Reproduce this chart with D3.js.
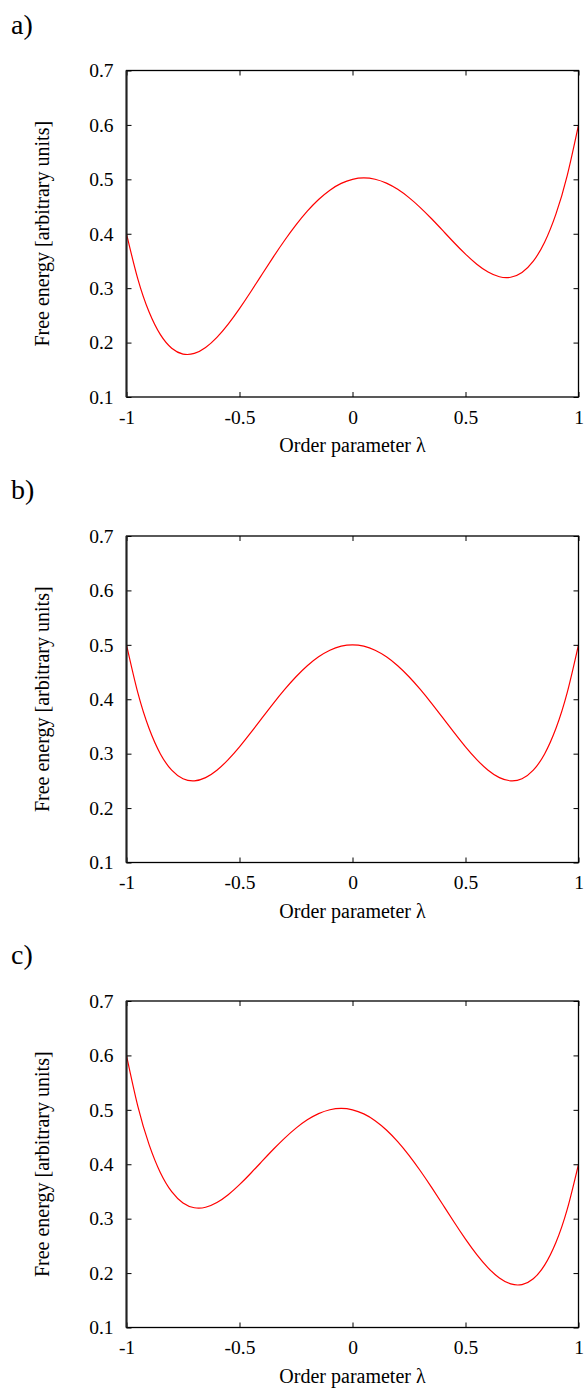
<!DOCTYPE html>
<html>
<head>
<meta charset="utf-8">
<script src="https://cdn.jsdelivr.net/npm/d3@7"></script>
<style>
  html, body { margin: 0; padding: 0; background: #fff; }
  svg { display: block; }
  text { font-family: "Liberation Serif", "DejaVu Serif", serif; fill: #000; }
</style>
</head>
<body>
<script>
// ---- data ----
const lambda = [-1, -0.95, -0.9, -0.85, -0.8, -0.75, -0.7, -0.65, -0.6, -0.55, -0.5,
  -0.45, -0.4, -0.35, -0.3, -0.25, -0.2, -0.15, -0.1, -0.05, 0,
  0.05, 0.1, 0.15, 0.2, 0.25, 0.3, 0.35, 0.4, 0.45, 0.5,
  0.55, 0.6, 0.65, 0.7, 0.75, 0.8, 0.85, 0.9, 0.95, 1];

const energyA = [0.4000, 0.3170, 0.2561, 0.2145, 0.1896, 0.1789, 0.1801, 0.1910, 0.2096, 0.2340, 0.2625,
  0.2935, 0.3256, 0.3575, 0.3881, 0.4164, 0.4416, 0.4630, 0.4801, 0.4925, 0.5000,
  0.5025, 0.5001, 0.4930, 0.4816, 0.4664, 0.4481, 0.4275, 0.4056, 0.3835, 0.3625,
  0.3440, 0.3296, 0.3210, 0.3201, 0.3289, 0.3496, 0.3845, 0.4361, 0.5070, 0.6000];

const energyB = [0.5000, 0.4120, 0.3461, 0.2995, 0.2696, 0.2539, 0.2501, 0.2560, 0.2696, 0.2890, 0.3125,
  0.3385, 0.3656, 0.3925, 0.4181, 0.4414, 0.4616, 0.4780, 0.4901, 0.4975, 0.5000,
  0.4975, 0.4901, 0.4780, 0.4616, 0.4414, 0.4181, 0.3925, 0.3656, 0.3385, 0.3125,
  0.2890, 0.2696, 0.2560, 0.2501, 0.2539, 0.2696, 0.2995, 0.3461, 0.4120, 0.5000];

const energyC = [0.6000, 0.5070, 0.4361, 0.3845, 0.3496, 0.3289, 0.3201, 0.3210, 0.3296, 0.3440, 0.3625,
  0.3835, 0.4056, 0.4275, 0.4481, 0.4664, 0.4816, 0.4930, 0.5001, 0.5025, 0.5000,
  0.4925, 0.4801, 0.4630, 0.4416, 0.4164, 0.3881, 0.3575, 0.3256, 0.2935, 0.2625,
  0.2340, 0.2096, 0.1910, 0.1801, 0.1789, 0.1896, 0.2145, 0.2561, 0.3170, 0.4000];

const panelLabels = ["a)", "b)", "c)"];
const xTicks = [-1, -0.5, 0, 0.5, 1];
const xTickLabels = ["-1", "-0.5", "0", "0.5", "1"];
const yTicks = [0.1, 0.2, 0.3, 0.4, 0.5, 0.6, 0.7];
const yTickLabels = ["0.1", "0.2", "0.3", "0.4", "0.5", "0.6", "0.7"];
const xTitle = "Order parameter λ";
const yTitle = "Free energy [arbitrary units]";

const series = [energyA, energyB, energyC];

// ---- layout ----
const W = 584, H = 1392;
const plotLeft = 126.5, plotRight = 578.5;
const panelTops = [70.5, 536, 1001];
const plotH = 326.5;
const tickLen = 5;
const tickFont = 19.5;
const titleFont = 20;

const svg = d3.select("body").append("svg")
  .attr("width", W).attr("height", H);

const x = d3.scaleLinear().domain([-1, 1]).range([plotLeft, plotRight]);

series.forEach((vals, i) => {
  const top = panelTops[i];
  const bottom = top + plotH;
  const y = d3.scaleLinear().domain([0.1, 0.7]).range([bottom, top]);
  const g = svg.append("g");

  // panel label
  g.append("text")
    .attr("x", 11).attr("y", top - 37)
    .attr("font-size", 28)
    .text(panelLabels[i]);

  // clip
  const clipId = "clip" + i;
  svg.append("clipPath").attr("id", clipId)
    .append("rect").attr("x", plotLeft).attr("y", top)
    .attr("width", plotRight - plotLeft).attr("height", plotH);

  // curve
  const line = d3.line()
    .x((d, k) => x(lambda[k]))
    .y(d => y(d))
    .curve(d3.curveNatural);
  g.append("path")
    .datum(vals)
    .attr("clip-path", `url(#${clipId})`)
    .attr("d", line)
    .attr("fill", "none")
    .attr("stroke", "#ff0000")
    .attr("stroke-width", 1.2);

  // axes (ticks inward, mirrored)
  const bottomAxis = d3.axisBottom(x).tickValues(xTicks)
    .tickFormat((d, k) => xTickLabels[k]).tickSizeInner(-tickLen).tickSizeOuter(0).tickPadding(13);
  const topAxis = d3.axisTop(x).tickValues(xTicks)
    .tickFormat("").tickSizeInner(-tickLen).tickSizeOuter(0);
  const leftAxis = d3.axisLeft(y).tickValues(yTicks)
    .tickFormat((d, k) => yTickLabels[k]).tickSizeInner(-tickLen).tickSizeOuter(0).tickPadding(13);
  const rightAxis = d3.axisRight(y).tickValues(yTicks)
    .tickFormat("").tickSizeInner(-tickLen).tickSizeOuter(0);

  const styleAxis = sel => {
    sel.select(".domain").remove();
    sel.selectAll(".tick line").attr("stroke", "#000").attr("stroke-width", 1);
    sel.selectAll(".tick text")
      .attr("font-family", '"Liberation Serif", serif')
      .attr("font-size", tickFont).attr("fill", "#000");
  };

  g.append("g").attr("transform", `translate(0,${bottom})`).call(bottomAxis).call(styleAxis)
    .selectAll(".tick text").attr("dy", "0.71em");
  g.append("g").attr("transform", `translate(0,${top})`).call(topAxis).call(styleAxis);
  g.append("g").attr("transform", `translate(${plotLeft},0)`).call(leftAxis).call(styleAxis);
  g.append("g").attr("transform", `translate(${plotRight},0)`).call(rightAxis).call(styleAxis);

  // frame
  g.append("rect")
    .attr("x", plotLeft).attr("y", top)
    .attr("width", plotRight - plotLeft).attr("height", plotH)
    .attr("fill", "none").attr("stroke", "#000").attr("stroke-width", 1.3);
  g.append("line")
    .attr("x1", plotLeft).attr("x2", plotLeft).attr("y1", top).attr("y2", bottom)
    .attr("stroke", "#222").attr("stroke-width", 2);

  // axis titles
  g.append("text")
    .attr("x", (plotLeft + plotRight) / 2).attr("y", bottom + 55)
    .attr("text-anchor", "middle").attr("font-size", titleFont)
    .text(xTitle);
  g.append("text")
    .attr("transform", `translate(49,${top + plotH / 2}) rotate(-90)`)
    .attr("text-anchor", "middle").attr("font-size", titleFont)
    .text(yTitle);
});
</script>
</body>
</html>
